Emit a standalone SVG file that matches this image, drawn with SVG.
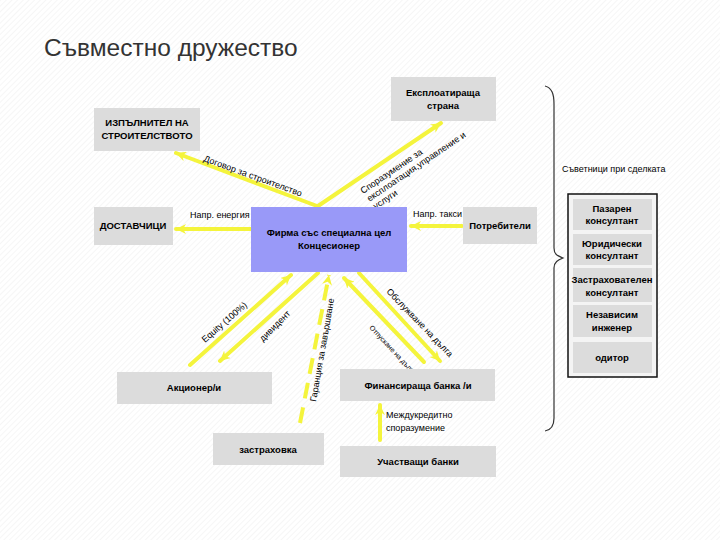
<svg xmlns="http://www.w3.org/2000/svg" width="720" height="540" viewBox="0 0 720 540">
<defs>
<pattern id="hatch" width="4" height="4" patternUnits="userSpaceOnUse" patternTransform="rotate(45)">
<rect width="4" height="4" fill="#ffffff"/>
<line x1="0" y1="0" x2="0" y2="4" stroke="#f3f3f3" stroke-width="1.5"/>
</pattern>
<marker id="ah" markerUnits="userSpaceOnUse" markerWidth="12" markerHeight="10" refX="10" refY="5" orient="auto">
<path d="M0,0 L10,5 L0,10 L3,5 Z" fill="#f4f43c"/>
</marker>
<style>
.box{fill:#dcdcdc}
.main{fill:#9999f8}
.bl{font-family:"Liberation Sans",Arial,sans-serif;font-weight:bold;font-size:9.5px;fill:#000;text-anchor:middle}
.lb{font-family:"Liberation Sans",Arial,sans-serif;font-size:9px;fill:#000}
.sm{font-family:"Liberation Sans",Arial,sans-serif;font-size:7px;fill:#000}
.ln{stroke:#f4f43c;stroke-width:4;fill:none;stroke-linecap:round;marker-end:url(#ah)}
.ds{stroke-dasharray:16 9;stroke-linecap:butt}
</style>
</defs>
<rect width="720" height="540" fill="url(#hatch)"/>
<text x="44" y="56" font-family="'Liberation Sans',Arial,sans-serif" font-size="24.5" fill="#333">Съвместно дружество</text>

<g id="connectors">
<line class="ln" x1="317" y1="206" x2="176" y2="153"/>
<line class="ln" x1="318" y1="206" x2="441" y2="123"/>
<line class="ln" x1="251" y1="229" x2="176" y2="229"/>
<line class="ln" x1="462" y1="226" x2="411" y2="226"/>
<line class="ln" x1="190" y1="365" x2="291" y2="275"/>
<line class="ln" x1="318" y1="273" x2="220" y2="361"/>
<line class="ln ds" x1="300" y1="423" x2="329" y2="275"/>
<line class="ln" x1="359" y1="273" x2="440" y2="361"/>
<line class="ln" x1="424" y1="362" x2="344" y2="278"/>
<line class="ln" x1="380" y1="440" x2="380" y2="405"/>
<text class="lb" transform="translate(203,161) rotate(20)" font-size="9.3">Договор за строителство</text>
<text class="lb" transform="translate(363,194) rotate(-34)"><tspan x="0" y="0">Споразумение за</tspan><tspan x="1" y="10">експлоатация,управление и</tspan><tspan x="2" y="20">услуги</tspan></text>
<text class="lb" x="190" y="218">Напр. енергия</text>
<text class="lb" x="413" y="217">Напр. такси</text>
<text class="lb" transform="translate(205,343) rotate(-41)">Equity (100%)</text>
<text class="lb" transform="translate(263,342) rotate(-45)">дивидент</text>
<text class="lb" transform="translate(316,402) rotate(-80)" font-size="9.8">Гаранция за завършване</text>
<text class="lb" transform="translate(386,292) rotate(46)" font-size="9.3">Обслужване на дълга</text>
<text class="sm" transform="translate(369,328) rotate(47)">Отпускане на дълга</text>
<text class="lb"><tspan x="386" y="418">Междукредитно</tspan><tspan x="386" y="431">споразумение</tspan></text>
</g>

<g id="contractor"><rect class="box" x="94" y="108" width="106" height="43"/><text class="bl" x="147" y="126">ИЗПЪЛНИТЕЛ НА</text><text class="bl" x="147" y="139">СТРОИТЕЛСТВОТО</text></g>
<g id="operator"><rect class="box" x="391" y="77" width="105" height="44"/><text class="bl" x="443" y="96">Експлоатираща</text><text class="bl" x="443" y="109">страна</text></g>
<g id="spv"><rect class="main" x="251" y="207" width="156" height="65"/><text class="bl" x="329" y="236">Фирма със специална цел</text><text class="bl" x="329" y="249">Концесионер</text></g>
<g id="suppliers"><rect class="box" x="94" y="207" width="79" height="38"/><text class="bl" x="133" y="229">ДОСТАВЧИЦИ</text></g>
<g id="consumers"><rect class="box" x="463" y="207" width="74" height="37"/><text class="bl" x="500" y="229">Потребители</text></g>
<g id="shareholders"><rect class="box" x="117" y="372" width="155" height="32"/><text class="bl" x="194" y="391">Акционер/и</text></g>
<g id="bank"><rect class="box" x="340" y="369" width="155" height="32"/><text class="bl" x="418" y="389">Финансираща банка /и</text></g>
<g id="insurance"><rect class="box" x="213" y="433" width="111" height="32"/><text class="bl" x="268" y="453">застраховка</text></g>
<g id="participating"><rect class="box" x="340" y="446" width="156" height="31"/><text class="bl" x="418" y="465">Участващи банки</text></g>

<g id="advisors">
<path d="M545,86 C552,88 554,94 554,104 L554,248 C554,255 558,256 563,258 C558,260 554,262 554,268 L554,418 C554,426 551,430 545,431" fill="none" stroke="#333" stroke-width="1.2"/>
<text class="lb" x="562" y="172" font-size="8.5">Съветници при сделката</text>
<rect x="568" y="194" width="89" height="183" fill="#f4f4f4" stroke="#111" stroke-width="1.5"/>
<rect class="box" x="573" y="199" width="79" height="31"/><text class="bl" x="612" y="212">Пазарен</text><text class="bl" x="612" y="224">консултант</text>
<rect class="box" x="573" y="234" width="79" height="31"/><text class="bl" x="612" y="247">Юридически</text><text class="bl" x="612" y="259">консултант</text>
<rect class="box" x="573" y="268" width="79" height="34"/><text class="bl" x="612" y="283">Застрахователен</text><text class="bl" x="612" y="296">консултант</text>
<rect class="box" x="573" y="305" width="79" height="32"/><text class="bl" x="612" y="318">Независим</text><text class="bl" x="612" y="331">инженер</text>
<rect class="box" x="573" y="342" width="79" height="31"/><text class="bl" x="612" y="361">одитор</text>
</g>
</svg>
